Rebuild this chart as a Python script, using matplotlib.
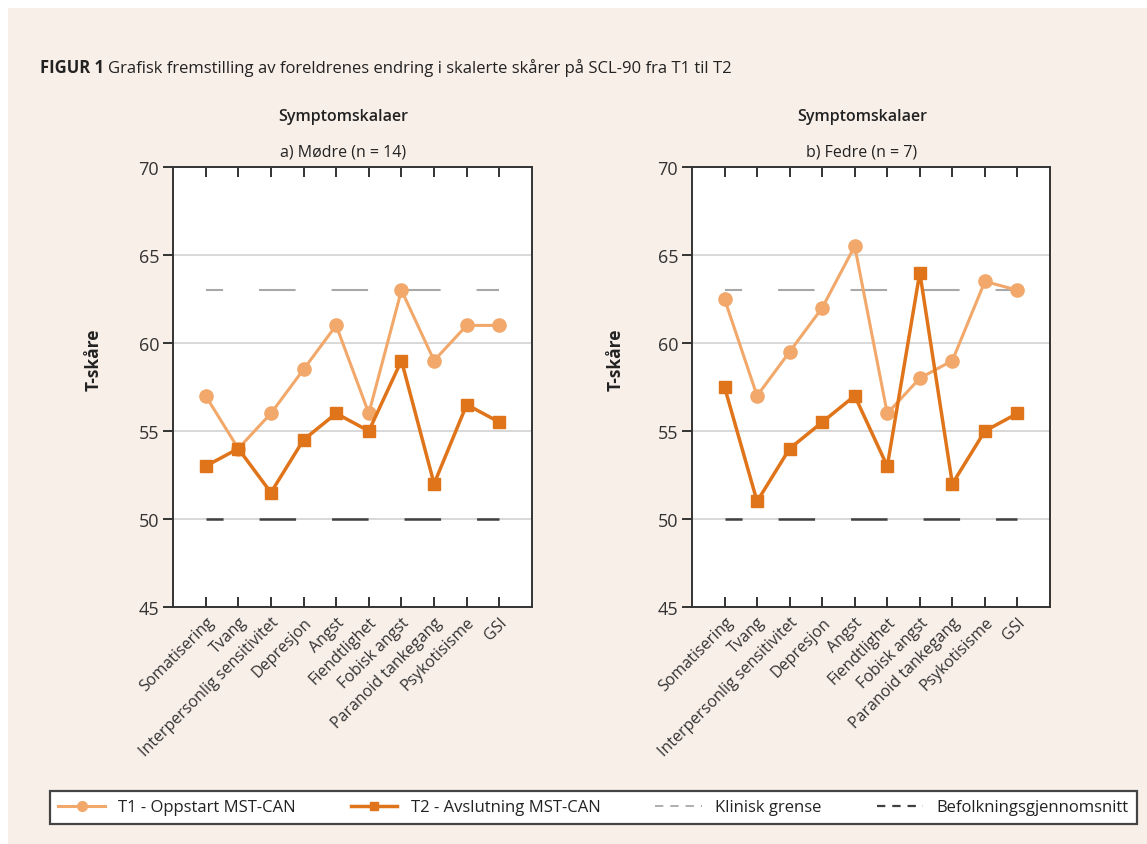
import matplotlib
matplotlib.use("Agg")
import matplotlib.pyplot as plt
from matplotlib import font_manager
from matplotlib.lines import Line2D
from matplotlib.patches import Rectangle

names = {f.name for f in font_manager.fontManager.ttflist}
FONT = "Liberation Sans Narrow" if "Liberation Sans Narrow" in names else "Open Sans"
plt.rcParams['font.family'] = [FONT, 'DejaVu Sans']
plt.rcParams['lines.scale_dashes'] = False

categories = ["Somatisering", "Tvang", "Interpersonlig sensitivitet", "Depresjon",
              "Angst", "Fiendtlighet", "Fobisk angst", "Paranoid tankegang",
              "Psykotisisme", "GSI"]
mothers_t1 = [57, 54, 56, 58.5, 61, 56, 63, 59, 61, 61]
mothers_t2 = [53, 54, 51.5, 54.5, 56, 55, 59, 52, 56.5, 55.5]
fathers_t1 = [62.5, 57, 59.5, 62, 65.5, 56, 58, 59, 63.5, 63]
fathers_t2 = [57.5, 51, 54, 55.5, 57, 53, 64, 52, 55, 56]
clinical_limit = 63
population_mean = 50
yticks = [45, 50, 55, 60, 65, 70]
panel_titles = ["a) Mødre (n = 14)", "b) Fedre (n = 7)"]
legend_labels = ["T1 - Oppstart MST-CAN", "T2 - Avslutning MST-CAN",
                 "Klinisk grense", "Befolkningsgjennomsnitt"]

C_T1 = "#F1A86A"
C_T2 = "#E0741A"
C_CLIN = "#A8A8A8"
C_POP = "#404040"
BG = "#F8EFE9"

W, H = 1147, 845
fig = plt.figure(figsize=(W / 100, H / 100), dpi=100)
fig.patch.set_facecolor("white")
fig.patches.append(Rectangle((8 / W, 0), 1, 1 - 9 / H, transform=fig.transFigure,
                             facecolor=BG, edgecolor="none", zorder=-10))

def px(x0, y0, x1, y1):
    return [x0 / W, 1 - y1 / H, (x1 - x0) / W, (y1 - y0) / H]

axes = [fig.add_axes(px(173, 168, 532, 608)), fig.add_axes(px(692, 168, 1050, 608))]
data = [(mothers_t1, mothers_t2), (fathers_t1, fathers_t2)]
xs = list(range(len(categories)))
dash = (14, (26.3, 25.9))

for i, (ax, (t1, t2)) in enumerate(zip(axes, data)):
    ax.set_facecolor("white")
    ax.set_xlim(-1, len(categories))
    ax.set_ylim(45, 70)
    ax.set_yticks(yticks)
    for y in yticks[1:-1]:
        ax.axhline(y, color="#D2D2D2", lw=1.2, zorder=1)
    ax.plot([xs[0], xs[-1]], [clinical_limit] * 2, color=C_CLIN, lw=1.5,
            linestyle=dash, zorder=2)
    ax.plot([xs[0], xs[-1]], [population_mean] * 2, color=C_POP, lw=1.8,
            linestyle=dash, zorder=2)
    ax.plot(xs, t1, color=C_T1, lw=2.2, marker="o", ms=9.5, zorder=3)
    ax.plot(xs, t2, color=C_T2, lw=2.5, marker="s", ms=8.5, zorder=4)
    for s in ax.spines.values():
        s.set_color("#333333")
        s.set_linewidth(1.4)
    ax.set_xticks(xs)
    ax.set_xticklabels(categories, rotation=45, ha="right", rotation_mode="anchor",
                       fontsize=11.5, color="#333333")
    ax.tick_params(axis="x", direction="in", top=True, bottom=True, length=7,
                   width=1.4, color="#333333", pad=5)
    ax.tick_params(axis="y", direction="out", left=True, right=False, length=7,
                   width=1.4, color="#333333", labelsize=13, labelcolor="#333333", pad=3)
    ax.set_ylabel("T-skåre", fontsize=12.5, fontweight="bold", color="#222222")
    ax.yaxis.set_label_coords(-0.195 if i == 0 else -0.187, 0.565)
    ax.text(0.475, 1.115, "Symptomskalaer", transform=ax.transAxes, ha="center",
            va="center", fontsize=11.5, fontweight="semibold", color="#222222")
    ax.text(0.475, 1.035, panel_titles[i], transform=ax.transAxes, ha="center",
            va="center", fontsize=11.5, color="#222222")

# Title
t_bold = fig.text(40 / W, 1 - 68 / H, "FIGUR 1", fontsize=12, fontweight="bold",
                  ha="left", va="center", color="#222222")
fig.canvas.draw()
bb = t_bold.get_window_extent()
fig.text((bb.x1 + 4) / W, 1 - 68 / H,
         "Grafisk fremstilling av foreldrenes endring i skalerte skårer på SCL-90 fra T1 til T2",
         fontsize=12, ha="left", va="center", color="#222222")

handles = [
    Line2D([], [], color=C_T1, lw=2.2, marker="o", ms=7),
    Line2D([], [], color=C_T2, lw=2.5, marker="s", ms=6),
    Line2D([], [], color=C_CLIN, lw=1.3, linestyle=(0, (6, 5))),
    Line2D([], [], color=C_POP, lw=1.6, linestyle=(0, (6, 5))),
]
leg = fig.legend(handles, legend_labels, ncol=4, mode="expand", loc="center",
                 bbox_to_anchor=(50 / W, 1 - 827 / H, 1087 / W, 37 / H),
                 fontsize=12, frameon=True, fancybox=False, handlelength=2.8,
                 handletextpad=0.8, borderaxespad=0, borderpad=0.5)
leg.get_frame().set_edgecolor("#444444")
leg.get_frame().set_linewidth(1.6)
leg.get_frame().set_facecolor("white")
leg.get_frame().set_alpha(1)
for t in leg.get_texts():
    t.set_color("#222222")

fig.savefig("out.png", dpi=100, facecolor=fig.get_facecolor())
